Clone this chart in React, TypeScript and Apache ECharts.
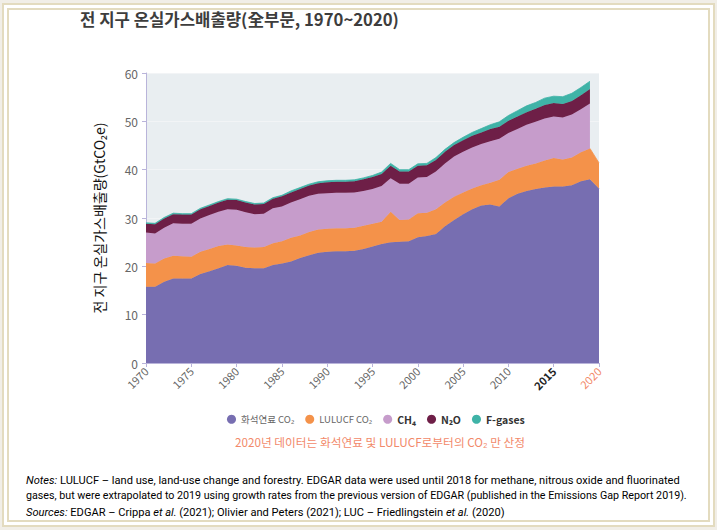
import React, { useEffect, useRef } from "react";
import * as echarts from "echarts";

const years: string[] = [];
for (let y = 1970; y <= 2020; y++) years.push(String(y));

const fossilCO2 = [15.8, 15.8, 16.8, 17.5, 17.5, 17.5, 18.4, 19.0, 19.6, 20.3, 20.1, 19.7, 19.6, 19.6, 20.3, 20.6, 21.0, 21.7, 22.3, 22.8, 23.0, 23.1, 23.1, 23.2, 23.6, 24.1, 24.6, 25.0, 25.1, 25.2, 26.0, 26.3, 26.7, 28.3, 29.6, 30.8, 31.8, 32.6, 32.8, 32.4, 34.1, 35.0, 35.6, 36.0, 36.3, 36.5, 36.5, 36.8, 37.6, 38.0, 36.1];
const lulucfCO2 = [4.9, 4.8, 4.8, 4.7, 4.6, 4.5, 4.6, 4.6, 4.6, 4.2, 4.2, 4.3, 4.3, 4.4, 4.5, 4.6, 4.9, 4.7, 4.8, 4.8, 4.8, 4.8, 4.8, 4.8, 4.8, 4.7, 4.6, 6.3, 4.5, 4.5, 5.0, 4.8, 5.1, 4.9, 4.8, 4.5, 4.3, 4.2, 4.5, 5.5, 5.4, 5.2, 5.2, 5.3, 5.6, 5.9, 5.6, 5.7, 6.0, 6.4, 5.3];
const ch4 = [6.3, 6.2, 6.4, 6.7, 6.7, 6.8, 6.9, 7.0, 7.1, 7.3, 7.4, 7.2, 6.9, 6.9, 7.2, 7.2, 7.3, 7.5, 7.5, 7.4, 7.3, 7.3, 7.3, 7.3, 7.2, 7.2, 7.4, 6.9, 7.5, 7.4, 7.4, 7.4, 7.8, 8.1, 8.3, 8.4, 8.5, 8.5, 8.6, 8.5, 8.1, 8.2, 8.5, 8.6, 8.7, 8.6, 8.7, 8.9, 8.9, 9.3, null];
const n2o = [1.8, 1.9, 1.9, 1.9, 1.9, 1.9, 1.9, 1.9, 1.9, 2.0, 2.0, 2.0, 2.0, 2.0, 2.0, 2.1, 2.1, 2.1, 2.1, 2.2, 2.3, 2.3, 2.3, 2.3, 2.4, 2.5, 2.5, 2.6, 2.5, 2.5, 2.4, 2.4, 2.4, 2.4, 2.4, 2.4, 2.4, 2.4, 2.5, 2.5, 2.5, 2.6, 2.6, 2.7, 2.8, 2.8, 2.8, 2.8, 2.9, 3.0, null];
const fGases = [0.2, 0.2, 0.2, 0.2, 0.2, 0.2, 0.2, 0.2, 0.2, 0.2, 0.2, 0.2, 0.2, 0.2, 0.2, 0.2, 0.3, 0.3, 0.3, 0.3, 0.3, 0.3, 0.3, 0.3, 0.3, 0.3, 0.4, 0.5, 0.4, 0.4, 0.4, 0.4, 0.5, 0.5, 0.5, 0.6, 0.7, 0.8, 0.9, 1.0, 1.1, 1.2, 1.3, 1.3, 1.4, 1.4, 1.5, 1.6, 1.6, 1.6, null];

const seriesNames = ["화석연료 CO₂", "LULUCF CO₂", "CH₄", "N₂O", "F-gases"];
const seriesColors = ["#776eb1", "#f4924a", "#c69ccb", "#6e1f47", "#3fb3a7"];

const titleText = "전 지구 온실가스배출량(全부문, 1970~2020)";
const yAxisTitle = "전 지구 온실가스배출량(GtCO₂e)";
const redNote = "2020년 데이터는 화석연료 및 LULUCF로부터의 CO₂ 만 산정";

export default function App() {
  const ref = useRef<HTMLDivElement>(null);
  useEffect(() => {
    document.body.style.margin = "0";
    const chart = echarts.init(ref.current!, null, { renderer: "svg" });
    const allData = [fossilCO2, lulucfCO2, ch4, n2o, fGases];
    const frameColor = "#e3dbbf";
    const noteBase = { fontSize: 11.1, fontFamily: "Roboto", color: "#555" };
    chart.setOption({
      animation: false,
      backgroundColor: "#ffffff",
      textStyle: { fontFamily: "'Noto Sans CJK KR', 'Noto Sans', sans-serif" },
      grid: {
        left: 146,
        right: 118,
        top: 73,
        bottom: 167,
        show: true,
        backgroundColor: "#e9eef1",
        borderWidth: 0,
      },
      legend: {
        left: 222,
        top: 409,
        icon: "circle",
        itemWidth: 9,
        itemHeight: 9,
        itemGap: 11,
        data: seriesNames.map((n, i) => ({
          name: n,
          textStyle:
            i < 2
              ? { fontSize: 9.5, color: "#666", fontWeight: "normal" }
              : { fontSize: 10.5, color: "#333", fontWeight: "bold" },
        })),
      },
      xAxis: {
        type: "category",
        boundaryGap: false,
        data: years,
        axisLine: { lineStyle: { color: "#b9b4da", width: 1 } },
        axisTick: {
          interval: (i: number) => i % 5 === 0,
          length: 4,
          lineStyle: { color: "#b9b4da" },
        },
        axisLabel: {
          interval: (i: number) => i % 5 === 0,
          rotate: 45,
          fontSize: 11,
          color: "#666",
          margin: 6,
          formatter: (v: string) =>
            v === "2015" ? `{b|${v}}` : v === "2020" ? `{r|${v}}` : v,
          rich: {
            b: { fontWeight: "bold", color: "#222", fontSize: 11 },
            r: { color: "#f2896a", fontSize: 11 },
          },
        },
      },
      yAxis: {
        type: "value",
        min: 0,
        max: 60,
        interval: 10,
        name: yAxisTitle,
        nameLocation: "middle",
        nameGap: 40,
        nameRotate: 90,
        nameTextStyle: { fontSize: 14, color: "#111" },
        axisLine: { show: true, lineStyle: { color: "#b9b4da" } },
        axisTick: { show: true, length: 4, lineStyle: { color: "#b9b4da" } },
        axisLabel: { fontSize: 12, color: "#666", margin: 8 },
        splitLine: { show: true, lineStyle: { color: "#f2f4f6", width: 1 } },
      },
      series: seriesNames.map((n, i) => ({
        name: n,
        type: "line",
        stack: "total",
        symbol: "none",
        data: allData[i].map((v) => (v === null ? "-" : v)),
        itemStyle: { color: seriesColors[i] },
        lineStyle: { color: seriesColors[i], width: 0.8 },
        areaStyle: { color: seriesColors[i], opacity: 1 },
        z: 2 + i,
      })),
      graphic: [
        { type: "rect", z: -20, shape: { x: 0, y: 0, width: 717, height: 530 }, style: { fill: "#f1eee7" } },
        { type: "rect", z: -19, shape: { x: 3, y: 4, width: 711, height: 522 }, style: { fill: "#ffffff" } },
        { type: "rect", z: -18, shape: { x: 3, y: 4, width: 711, height: 522 }, style: { fill: "none", stroke: frameColor, lineWidth: 2 } },
        { type: "rect", z: -18, shape: { x: 8, y: 9, width: 701, height: 512 }, style: { fill: "none", stroke: frameColor, lineWidth: 2 } },
        {
          type: "text",
          left: 80,
          top: 11,
          style: { text: titleText, fontSize: 16.7, fontWeight: "bold", fill: "#3d3d3d", fontFamily: "'Noto Sans CJK KR', sans-serif" },
        },
        {
          type: "text",
          x: 380,
          y: 441,
          style: { text: redNote, fontSize: 11.7, fill: "#f2896a", textAlign: "center", textVerticalAlign: "middle", fontFamily: "'Noto Sans CJK KR', sans-serif" },
        },
        {
          type: "text",
          x: 26,
          y: 480,
          style: {
            text: "{n|Notes:} LULUCF – land use, land-use change and forestry. EDGAR data were used until 2018 for methane, nitrous oxide and fluorinated",
            textVerticalAlign: "middle",
            rich: { n: { ...noteBase, color: "#4a78b5", fontStyle: "italic" } },
            ...noteBase,
          },
        },
        {
          type: "text",
          x: 26,
          y: 495,
          style: {
            text: "gases, but were extrapolated to 2019 using growth rates from the previous version of EDGAR (published in the Emissions Gap Report 2019).",
            textVerticalAlign: "middle",
            ...noteBase,
            fontSize: 10.7,
          },
        },
        {
          type: "text",
          x: 26,
          y: 512,
          style: {
            text: "{n|Sources:} EDGAR – Crippa {i|et al.} (2021); Olivier and Peters (2021); LUC – Friedlingstein {i|et al.} (2020)",
            textVerticalAlign: "middle",
            rich: {
              n: { ...noteBase, color: "#4a78b5", fontStyle: "italic" },
              i: { ...noteBase, fontStyle: "italic" },
            },
            ...noteBase,
          },
        },
      ],
    });
    return () => chart.dispose();
  }, []);
  return <div ref={ref} style={{ width: 717, height: 530 }} />;
}
